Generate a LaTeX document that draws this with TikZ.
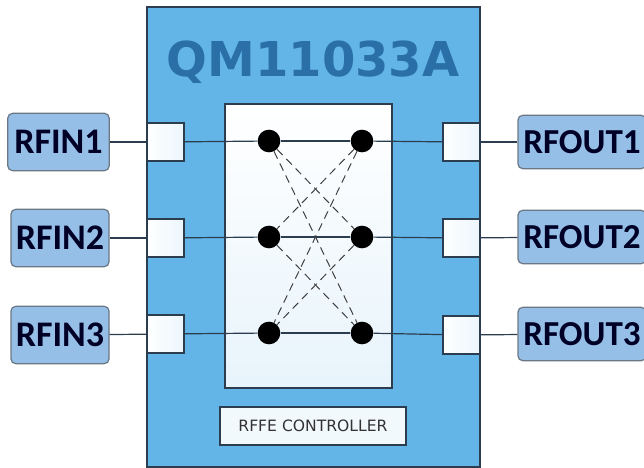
\documentclass[tikz,border=0pt]{standalone}
\usepackage{fontspec}
\setmainfont{Carlito}
\newfontfamily\titlefont{DejaVu Sans}
\newfontfamily\ctrlfont{DejaVu Sans}
\definecolor{chipblue}{HTML}{62B5E6}
\definecolor{titleblue}{HTML}{2A6FA8}
\definecolor{labelblue}{HTML}{95BFE6}
\definecolor{edge}{HTML}{2B3D4F}
\tikzset{
  px/.style={x=0.75pt,y=-0.75pt},
  chip/.style={draw=edge,line width=1pt,fill=chipblue,minimum width=249.75pt,minimum height=345pt,inner sep=0pt},
  matrixbox/.style={draw=edge,line width=1pt,top color=white,bottom color=white!85!chipblue,minimum width=125.25pt,minimum height=213pt,inner sep=0pt},
  port/.style={draw=edge,line width=1pt,left color=white,right color=white!88!chipblue,minimum width=27.75pt,minimum height=28.5pt,inner sep=0pt},
  pin/.style={draw=edge!70,line width=0.9pt,rounded corners=3.5pt,fill=labelblue,minimum height=43pt,inner sep=0pt,text=black!85!blue,font=\fontsize{27}{29}\selectfont\bfseries},
  pinout/.style={pin,minimum width=96pt,minimum height=40pt,font=\fontsize{26.3}{29}\selectfont\bfseries},
  swdot/.style={circle,fill=black,minimum size=17pt,inner sep=0pt},
  link/.style={draw=edge,line width=0.9pt},
  cross/.style={draw=black!75,line width=0.75pt,dash pattern=on 6pt off 4pt},
  ctrl/.style={draw=edge,line width=1pt,fill=white!92!chipblue,minimum width=139.5pt,minimum height=28.5pt,inner sep=0pt,font=\ctrlfont\fontsize{11.7}{13}\selectfont,text=black!80},
}
\begin{document}
\begin{tikzpicture}[px]
\useasboundingbox (0,0) rectangle (644,468);
\fill[white] (0,0) rectangle (644,468);
\node[chip] (chip) at (313.5,237) {};
\node[font=\titlefont\bfseries\fontsize{36}{38}\selectfont,text=titleblue,inner sep=0pt] (title) at (313,62) {QM11033A};
\node[matrixbox] (mat) at (308.5,246) {};
\node[ctrl] (ctl) at (313,426) {RFFE CONTROLLER};
\node[port] (pi1) at (165.5,142) {};
\node[port] (pi2) at (165.5,238) {};
\node[port] (pi3) at (165.5,334) {};
\node[port] (po1) at (461.5,142) {};
\node[port] (po2) at (461.5,238) {};
\node[port] (po3) at (461.5,335) {};
\node[pin,minimum width=76pt] (ri1) at (58.5,142) {RFIN1};
\node[pin,minimum width=73.5pt] (ri2) at (60,238) {RFIN2};
\node[pin,minimum width=73.5pt] (ri3) at (60,335) {RFIN3};
\node[pinout] (ro1) at (582,142) {RFOUT1};
\node[pinout] (ro2) at (582,237) {RFOUT2};
\node[pinout] (ro3) at (582,334) {RFOUT3};
\node[swdot] (a1) at (269,141) {};
\node[swdot] (b1) at (362,141) {};
\node[swdot] (a2) at (269,237) {};
\node[swdot] (b2) at (362,237) {};
\node[swdot] (a3) at (269,333) {};
\node[swdot] (b3) at (362,333) {};
\draw[link] (ri1) -- (pi1); \draw[link] (pi1) -- (a1); \draw[link] (a1) -- (b1); \draw[link] (b1) -- (po1); \draw[link] (po1) -- (ro1);
\draw[link] (ri2) -- (pi2); \draw[link] (pi2) -- (a2); \draw[link] (a2) -- (b2); \draw[link] (b2) -- (po2); \draw[link] (po2) -- (ro2);
\draw[link] (ri3) -- (pi3); \draw[link] (pi3) -- (a3); \draw[link] (a3) -- (b3); \draw[link] (b3) -- (po3); \draw[link] (po3) -- (ro3);
\draw[cross] (a1) -- (b2);
\draw[cross] (a1) -- (b3);
\draw[cross] (b1) -- (a2);
\draw[cross] (b1) -- (a3);
\draw[cross] (a2) -- (b3);
\draw[cross] (b2) -- (a3);
\end{tikzpicture}
\end{document}
